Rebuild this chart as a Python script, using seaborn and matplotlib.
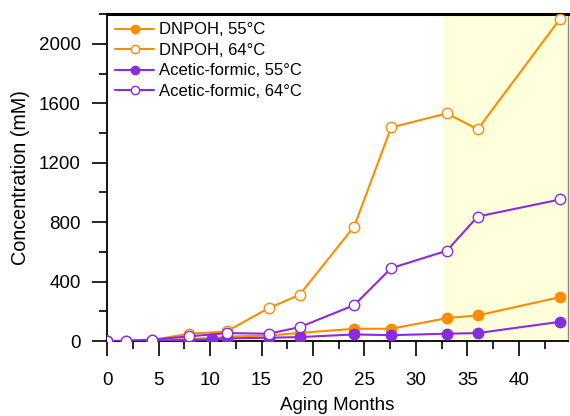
import matplotlib
matplotlib.use("Agg")
import matplotlib.pyplot as plt
from matplotlib.ticker import MultipleLocator
import seaborn as sns
import pandas as pd

# Aging time points (months)
months_64 = [0, 1.8, 4.4, 8.0, 11.6, 15.7, 18.7, 24.0, 27.6, 33.0, 36.0, 44.0]
months_55 = [0, 4.4, 8.0, 10.2, 11.6, 15.7, 18.7, 24.0, 27.6, 33.0, 36.0, 44.0]

# Concentrations (mM)
dnpoh_55 = [0, 3, 15, 20, 30, 38, 55, 83, 83, 155, 173, 296]
dnpoh_64 = [0, 2, 8, 50, 65, 222, 312, 771, 1438, 1532, 1425, 2168]
acetic_55 = [0, 2, 8, 12, 18, 23, 27, 45, 40, 50, 54, 130]
acetic_64 = [0, 3, 10, 32, 54, 50, 94, 242, 491, 608, 838, 953]

labels = ["DNPOH, 55°C", "DNPOH, 64°C", "Acetic-formic, 55°C", "Acetic-formic, 64°C"]

sns.set_theme(style="ticks")
plt.rcParams["font.family"] = ["Liberation Sans", "DejaVu Sans"]
plt.rcParams["text.color"] = "black"

ORANGE = "#FF8C00"
PURPLE = "#8A2BE2"

fig = plt.figure(figsize=(5.7, 4.16), dpi=100)
ax = fig.add_axes([0.188, 0.180, 0.808, 0.786])

# shaded late-aging window
ax.axvspan(32.65, 44.75, color="#FFFFDC", zorder=0, lw=0)

series = [
    (months_55, dnpoh_55, ORANGE, True),
    (months_64, dnpoh_64, ORANGE, False),
    (months_55, acetic_55, PURPLE, True),
    (months_64, acetic_64, PURPLE, False),
]

for (x, y, c, filled), lab in zip(series, labels):
    df = pd.DataFrame({"month": x, "conc": y})
    sns.lineplot(data=df, x="month", y="conc", ax=ax, sort=False,
                 color=c, lw=1.5, marker="o", markersize=7.5,
                 markerfacecolor=c if filled else "white",
                 markeredgecolor=c, markeredgewidth=1.0,
                 label=lab, zorder=3)

ax.set_xlim(0, 44.75)
ax.set_ylim(0, 2200)
ax.xaxis.set_major_locator(MultipleLocator(5))
ax.xaxis.set_minor_locator(MultipleLocator(2.5))
ax.yaxis.set_major_locator(MultipleLocator(400))
ax.yaxis.set_minor_locator(MultipleLocator(200))

ax.tick_params(axis="both", which="major", direction="out", length=11,
               width=1.2, color="black", labelsize=13.5, labelcolor="black")
ax.tick_params(axis="x", which="major", pad=11)
ax.tick_params(axis="y", which="major", pad=8)
ax.tick_params(axis="both", which="minor", direction="out", length=6,
               width=1.2, color="black")

for side in ["left", "bottom", "top"]:
    ax.spines[side].set_color("black")
    ax.spines[side].set_linewidth(1.3)
ax.spines["top"].set_visible(True)
ax.spines["top"].set_linewidth(2.2)
ax.spines["right"].set_visible(True)
ax.spines["right"].set_color("#8C8C78")
ax.spines["right"].set_linewidth(1.0)

ax.set_xlabel("Aging Months", fontsize=13.5, color="black", labelpad=6)
ax.set_ylabel("Concentration (mM)", fontsize=14.2, color="black", labelpad=6)

leg = ax.legend(loc="upper left", frameon=False, fontsize=12,
                handlelength=2.3, handletextpad=0.3, labelspacing=0.33,
                borderaxespad=0.2, borderpad=0.3, markerscale=0.8)
for t in leg.get_texts():
    t.set_color("black")

fig.savefig("out.png", dpi=100)
